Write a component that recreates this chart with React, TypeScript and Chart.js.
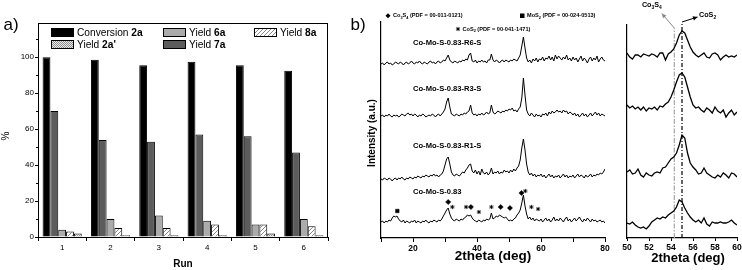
import React, { useEffect, useRef } from 'react';
import { Chart, registerables } from 'chart.js';

Chart.register(...registerables);

const FONT = "'Liberation Sans', Arial, Helvetica, sans-serif";

// ---------------- Panel a) : catalyst recycling ----------------
const runs = ['1', '2', '3', '4', '5', '6'];
const conversion2a = [100, 98.5, 95.5, 97.5, 95.5, 92.5];
const yield7a = [70, 54, 53, 57, 56, 47];
const yield6a = [4, 10, 12, 9, 7, 10];
const yield8a = [3, 5, 5, 7, 7, 6];
const yield2aPrime = [2, 1, 1, 1, 2, 1];
const percentTicks = [0, 20, 40, 60, 80, 100];
const percentMinorTicks = [10, 30, 50, 70, 90, 110];

// ---------------- Panel b) : XRD patterns ----------------
const twoTheta = [
  10, 10.5, 11, 11.5, 12, 12.5, 13, 13.5, 14, 14.5,
  15, 15.5, 16, 16.5, 17, 17.5, 18, 18.5, 19, 19.5,
  20, 20.5, 21, 21.5, 22, 22.5, 23, 23.5, 24, 24.5,
  25, 25.5, 26, 26.5, 27, 27.5, 28, 28.5, 29, 29.5,
  30, 30.5, 31, 31.5, 32, 32.5, 33, 33.5, 34, 34.5,
  35, 35.5, 36, 36.5, 37, 37.5, 38, 38.5, 39, 39.5,
  40, 40.5, 41, 41.5, 42, 42.5, 43, 43.5, 44, 44.5,
  45, 45.5, 46, 46.5, 47, 47.5, 48, 48.5, 49, 49.5,
  50, 50.5, 51, 51.5, 52, 52.5, 53, 53.5, 54, 54.5,
  55, 55.5, 56, 56.5, 57, 57.5, 58, 58.5, 59, 59.5,
  60, 60.5, 61, 61.5, 62, 62.5, 63, 63.5, 64, 64.5,
  65, 65.5, 66, 66.5, 67, 67.5, 68, 68.5, 69, 69.5,
  70, 70.5, 71, 71.5, 72, 72.5, 73, 73.5, 74, 74.5,
  75, 75.5, 76, 76.5, 77, 77.5, 78, 78.5, 79, 79.5,
  80,
];
const intensityR6S = [
  174, 175, 173, 175, 176, 174, 175, 173, 174, 176,
  175, 174, 176, 175, 173, 175, 176, 174, 175, 177,
  175, 174, 176, 175, 177, 175, 174, 176, 175, 174,
  176, 177, 175, 176, 174, 176, 177, 175, 176, 178,
  177, 180, 183, 178, 176, 175, 177, 176, 175, 177,
  176, 178, 177, 179, 178, 183, 185, 177, 176, 178,
  175, 177, 176, 178, 176, 177, 175, 178, 178, 184,
  178, 176, 178, 177, 175, 177, 178, 176, 178, 177,
  176, 178, 177, 179, 178, 177, 180, 183, 192, 201,
  190, 180, 176, 178, 175, 179, 177, 180, 176, 179,
  178, 181, 177, 180, 179, 182, 178, 181, 177, 183,
  179, 182, 180, 178, 181, 179, 183, 178, 180, 177,
  181, 178, 180, 176, 179, 182, 177, 180, 178, 175,
  179, 181, 177, 180, 178, 182, 176, 179, 181, 178,
  177,
];
const intensityR3S = [
  122, 123, 121, 123, 122, 124, 122, 121, 123, 122,
  123, 121, 122, 124, 123, 122, 124, 125, 123, 124,
  122, 124, 123, 121, 123, 122, 124, 123, 121, 122,
  123, 122, 124, 123, 121, 123, 124, 122, 124, 126,
  129, 136, 140, 131, 124, 123, 122, 124, 123, 122,
  124, 123, 125, 124, 126, 127, 133, 125, 123, 124,
  122, 124, 123, 125, 123, 124, 126, 124, 125, 133,
  126, 124, 125, 127, 126, 125, 127, 126, 128, 127,
  129, 128, 130, 127, 128, 126, 129, 131, 140, 160,
  143, 128, 124, 122, 125, 123, 121, 124, 122, 123,
  121, 124, 123, 125, 122, 126, 124, 127, 125, 126,
  128, 126, 127, 125, 128, 126, 127, 124, 126, 125,
  123, 125, 122, 124, 121, 123, 125, 122, 124, 121,
  123, 125, 122, 124, 126, 123, 125, 122, 124, 123,
  122,
];
const intensityR1S = [
  59, 58, 60, 59, 58, 60, 59, 57, 59, 60,
  58, 60, 59, 61, 59, 58, 60, 59, 61, 60,
  59, 61, 60, 62, 61, 60, 62, 61, 63, 62,
  61, 63, 62, 64, 62, 63, 61, 63, 64, 67,
  73, 79, 81, 74, 66, 63, 62, 64, 63, 62,
  64, 66, 65, 68, 70, 73, 74, 67, 65, 68,
  64, 67, 63, 69, 65, 64, 66, 63, 65, 70,
  64, 66, 65, 67, 64, 66, 65, 68, 66, 67,
  65, 68, 66, 69, 67, 70, 72, 78, 90, 99,
  88, 74, 66, 63, 65, 62, 64, 61, 63, 62,
  64, 61, 63, 60, 62, 64, 61, 63, 60, 62,
  61, 63, 60, 62, 64, 61, 63, 60, 62, 61,
  63, 60, 62, 64, 61, 63, 62, 60, 63, 61,
  62, 64, 61, 63, 62, 64, 63, 65, 64, 66,
  69,
];
const intensityPristine = [
  16, 17, 15, 17, 16, 18, 17, 20, 22, 21,
  22, 19, 17, 16, 18, 15, 17, 16, 15, 17,
  16, 18, 15, 17, 16, 15, 17, 16, 18, 16,
  15, 17, 16, 18, 17, 16, 18, 17, 19, 22,
  25, 28, 30, 24, 20, 18, 17, 19, 18, 17,
  19, 18, 20, 21, 23, 22, 23, 20, 18, 17,
  16, 18, 17, 16, 18, 17, 19, 18, 19, 25,
  19, 20, 22, 21, 23, 22, 21, 20, 21, 19,
  17, 18, 17, 19, 20, 23, 25, 28, 35, 43,
  32, 24, 19, 21, 18, 20, 17, 19, 18, 17,
  19, 16, 18, 20, 17, 19, 16, 18, 21, 17,
  19, 17, 20, 18, 16, 19, 21, 17, 19, 16,
  18, 20, 17, 19, 21, 18, 16, 19, 17, 20,
  18, 16, 19, 17, 18, 16, 17, 18, 16, 17,
  15,
];
const twoThetaTicks = [10, 20, 30, 40, 50, 60, 70, 80];
const traceNames = ['Co-Mo-S-0.83-R6-S', 'Co-Mo-S-0.83-R3-S', 'Co-Mo-S-0.83-R1-S', 'Co-Mo-S-0.83'];

// phase markers above the pristine pattern
const co3s4MarkX = [31, 38.1, 47.4, 50.3, 53.9];
const co3s4MarkY = [36, 31, 31, 30, 45];
const cos2MarkX = [32.3, 36.6, 40.6, 44.5, 55.1, 57, 59.1];
const cos2MarkY = [31, 31, 26, 31, 47, 31, 29];
const mos2MarkX = [15.1];
const mos2MarkY = [27];

// zoomed region 50-60 deg
const twoThetaZoom = [
  50, 50.25, 50.5, 50.75, 51, 51.25, 51.5, 51.75, 52, 52.25,
  52.5, 52.75, 53, 53.25, 53.5, 53.75, 54, 54.25, 54.5, 54.75,
  55, 55.25, 55.5, 55.75, 56, 56.25, 56.5, 56.75, 57, 57.25,
  57.5, 57.75, 58, 58.25, 58.5, 58.75, 59, 59.25, 59.5, 59.75,
  60,
];
const zoomR6S = [
  185, 181, 179, 183, 183, 181, 184, 183, 182, 184,
  183, 181, 185, 185, 178, 184, 186, 189, 195, 203,
  207, 205, 198, 191, 186, 183, 181, 183, 185, 181,
  180, 184, 185, 183, 178, 181, 183, 181, 182, 181,
  183,
];
const zoomR3S = [
  133, 130, 132, 129, 131, 128, 131, 127, 130, 129,
  131, 128, 132, 131, 134, 136, 141, 148, 156, 163,
  165, 161, 151, 141, 133, 130, 131, 128, 126, 130,
  128, 125, 131, 127, 125, 128, 121, 125, 128, 123,
  126,
];
const zoomR1S = [
  66, 68, 64, 65, 69, 63, 61, 65, 63, 62,
  65, 66, 65, 70, 71, 75, 79, 81, 85, 93,
  103, 100, 85, 75, 71, 68, 64, 65, 70, 65,
  63, 61, 60, 63, 61, 65, 63, 60, 65, 64,
  61,
];
const zoomPristine = [
  15, 14, 16, 13, 11, 10, 11, 9, 12, 16,
  18, 20, 19, 21, 20, 23, 25, 27, 31, 38,
  36, 30, 25, 21, 18, 16, 18, 15, 20, 14,
  12, 16, 15, 15, 16, 15, 15, 16, 18, 15,
  13,
];
const zoomTicks = [50, 52, 54, 56, 58, 60];
const co3s4RefLine = 54.3;
const cos2RefLine = 55.0;

// ---------------- helpers ----------------
type Seg = { t: string; bold?: boolean; sub?: boolean };

function drawSegs(ctx: CanvasRenderingContext2D, segs: Seg[], x: number, y: number, size: number, align: 'left' | 'center' = 'left') {
  ctx.save();
  ctx.fillStyle = '#000';
  ctx.textBaseline = 'middle';
  ctx.textAlign = 'left';
  const fontOf = (s: Seg) => `${s.bold ? 'bold ' : ''}${s.sub ? size * 0.68 : size}px ${FONT}`;
  let total = 0;
  for (const s of segs) {
    ctx.font = fontOf(s);
    total += ctx.measureText(s.t).width;
  }
  let cx = align === 'center' ? x - total / 2 : x;
  for (const s of segs) {
    ctx.font = fontOf(s);
    ctx.fillText(s.t, cx, s.sub ? y + size * 0.32 : y);
    cx += ctx.measureText(s.t).width;
  }
  ctx.restore();
}

function drawRotated(ctx: CanvasRenderingContext2D, text: string, x: number, y: number, font: string) {
  ctx.save();
  ctx.translate(x, y);
  ctx.rotate(-Math.PI / 2);
  ctx.font = font;
  ctx.fillStyle = '#000';
  ctx.textAlign = 'center';
  ctx.textBaseline = 'middle';
  ctx.fillText(text, 0, 0);
  ctx.restore();
}

function makeHatch(ctx: CanvasRenderingContext2D) {
  const c = document.createElement('canvas');
  c.width = 4;
  c.height = 4;
  const g = c.getContext('2d')!;
  g.fillStyle = '#ffffff';
  g.fillRect(0, 0, 4, 4);
  g.strokeStyle = '#8a8a8a';
  g.lineWidth = 1;
  g.beginPath();
  g.moveTo(0, 4);
  g.lineTo(4, 0);
  g.moveTo(-1, 1);
  g.lineTo(1, -1);
  g.moveTo(3, 5);
  g.lineTo(5, 3);
  g.stroke();
  return ctx.createPattern(c, 'repeat')!;
}

function makeDots(ctx: CanvasRenderingContext2D) {
  const c = document.createElement('canvas');
  c.width = 2;
  c.height = 2;
  const g = c.getContext('2d')!;
  g.fillStyle = '#ececec';
  g.fillRect(0, 0, 2, 2);
  g.fillStyle = '#8c8c8c';
  g.fillRect(0, 0, 1, 1);
  g.fillRect(1, 1, 1, 1);
  return ctx.createPattern(c, 'repeat')!;
}

const toXY = (xs: number[], ys: number[]) => xs.map((x, i) => ({ x, y: ys[i] }));

function arrow(ctx: CanvasRenderingContext2D, x0: number, y0: number, x1: number, y1: number, color: string) {
  ctx.save();
  ctx.strokeStyle = color;
  ctx.fillStyle = color;
  ctx.lineWidth = 1;
  ctx.setLineDash([]);
  ctx.beginPath();
  ctx.moveTo(x0, y0);
  ctx.lineTo(x1, y1);
  ctx.stroke();
  const a = Math.atan2(y1 - y0, x1 - x0);
  const L = 4.5;
  const W = 2.2;
  ctx.beginPath();
  ctx.moveTo(x1, y1);
  ctx.lineTo(x1 - L * Math.cos(a) + W * Math.sin(a), y1 - L * Math.sin(a) - W * Math.cos(a));
  ctx.lineTo(x1 - L * Math.cos(a) - W * Math.sin(a), y1 - L * Math.sin(a) + W * Math.cos(a));
  ctx.closePath();
  ctx.fill();
  ctx.restore();
}

// ---------------- plugins ----------------
const panelAPlugin = {
  id: 'panelA',
  afterDraw(chart: any) {
    const { ctx, chartArea } = chart;
    const { left, top, right, bottom } = chartArea;
    const yScale = chart.scales.y;
    ctx.save();
    ctx.strokeStyle = '#000';
    ctx.lineWidth = 1;
    ctx.beginPath();
    ctx.moveTo(Math.round(left), Math.round(top) + 0.5);
    ctx.lineTo(Math.round(right), Math.round(top) + 0.5);
    ctx.moveTo(Math.round(right) - 0.5, Math.round(top));
    ctx.lineTo(Math.round(right) - 0.5, Math.round(bottom));
    for (const v of percentMinorTicks) {
      const py = Math.round(yScale.getPixelForValue(v)) + 0.5;
      ctx.moveTo(left - 2, py);
      ctx.lineTo(left, py);
    }
    ctx.stroke();

    // legend inside plot
    const layout = [
      { ds: 0, x: left + 13, y: top + 5 },
      { ds: 2, x: left + 125, y: top + 5 },
      { ds: 3, x: left + 216, y: top + 5 },
      { ds: 4, x: left + 13, y: top + 17 },
      { ds: 1, x: left + 125, y: top + 17 },
    ];
    for (const item of layout) {
      const d = chart.data.datasets[item.ds];
      ctx.fillStyle = d.backgroundColor;
      ctx.fillRect(item.x, item.y, 23, 9);
      ctx.strokeStyle = '#000';
      ctx.lineWidth = 1;
      ctx.strokeRect(item.x + 0.5, item.y + 0.5, 22, 8);
      const label: string = d.label;
      const cut = label.lastIndexOf(' ');
      drawSegs(ctx, [{ t: label.slice(0, cut + 1) }, { t: label.slice(cut + 1), bold: true }], item.x + 26, item.y + 5, 10.2);
    }

    // titles
    ctx.fillStyle = '#000';
    ctx.font = `bold 10px ${FONT}`;
    ctx.textAlign = 'center';
    ctx.textBaseline = 'middle';
    ctx.fillText('Run', (left + right) / 2, 264);
    ctx.font = `17px ${FONT}`;
    ctx.fillText('a)', 11, 25);
    ctx.restore();
    drawRotated(ctx, '%', 6, 136, `10px ${FONT}`);
  },
};

const panelBPlugin = {
  id: 'panelB',
  afterDraw(chart: any) {
    const { ctx, chartArea } = chart;
    const xs = chart.scales.x;
    const labelX = xs.getPixelForValue(20);
    const labelY = [42.7, 89, 146, 191.7];
    traceNames.forEach((n, i) => drawSegs(ctx, [{ t: n, bold: true }], labelX, labelY[i], 7.6));

    // phase legend
    ctx.save();
    ctx.fillStyle = '#000';
    ctx.strokeStyle = '#000';
    ctx.beginPath();
    ctx.moveTo(43, 13.2);
    ctx.lineTo(45.5, 15.7);
    ctx.lineTo(43, 18.2);
    ctx.lineTo(40.5, 15.7);
    ctx.closePath();
    ctx.fill();
    ctx.fillRect(175, 13.5, 4.5, 4.5);
    ctx.lineWidth = 0.9;
    ctx.beginPath();
    for (let k = 0; k < 4; k++) {
      const a = (k * Math.PI) / 4;
      ctx.moveTo(113 - 2.1 * Math.cos(a), 29 - 2.1 * Math.sin(a));
      ctx.lineTo(113 + 2.1 * Math.cos(a), 29 + 2.1 * Math.sin(a));
    }
    ctx.stroke();
    ctx.restore();
    drawSegs(ctx, [{ t: 'Co', bold: true }, { t: '3', bold: true, sub: true }, { t: 'S', bold: true }, { t: '4', bold: true, sub: true }, { t: ' (PDF = 00-011-0121)', bold: true }], 48, 15.7, 5.6);
    drawSegs(ctx, [{ t: 'CoS', bold: true }, { t: '2', bold: true, sub: true }, { t: ' (PDF = 00-041-1471)', bold: true }], 117.5, 29, 5.6);
    drawSegs(ctx, [{ t: 'MoS', bold: true }, { t: '2', bold: true, sub: true }, { t: ' (PDF = 00-024-0513)', bold: true }], 182, 15.7, 5.6);

    ctx.save();
    ctx.fillStyle = '#000';
    ctx.textAlign = 'center';
    ctx.textBaseline = 'middle';
    ctx.font = `bold 13.5px ${FONT}`;
    ctx.fillText('2theta (deg)', (chartArea.left + chartArea.right) / 2, 256.5);
    ctx.font = `17px ${FONT}`;
    ctx.fillText('b)', 13, 25);
    ctx.restore();
    drawRotated(ctx, 'Intensity (a.u.)', 27.5, 133, `bold 10px ${FONT}`);
  },
};

const panelCPlugin = {
  id: 'panelC',
  beforeDatasetsDraw(chart: any) {
    const { ctx, chartArea } = chart;
    const xs = chart.scales.x;
    const xg = xs.getPixelForValue(co3s4RefLine);
    const xb = xs.getPixelForValue(cos2RefLine);
    ctx.save();
    ctx.lineWidth = 1.2;
    ctx.strokeStyle = '#a6a6a6';
    ctx.setLineDash([5, 1.5, 1.5, 1.5]);
    ctx.beginPath();
    ctx.moveTo(xg, chartArea.bottom);
    ctx.lineTo(xg, 28);
    ctx.stroke();
    ctx.strokeStyle = '#000';
    ctx.setLineDash([4, 2, 1, 2]);
    ctx.beginPath();
    ctx.moveTo(xb, chartArea.bottom);
    ctx.lineTo(xb, 22);
    ctx.stroke();
    ctx.restore();
  },
  afterDraw(chart: any) {
    const { ctx, chartArea } = chart;
    const xs = chart.scales.x;
    const xg = xs.getPixelForValue(co3s4RefLine);
    const xb = xs.getPixelForValue(cos2RefLine);
    arrow(ctx, xg, 28, xg - 12.5, 13.5, '#888');
    arrow(ctx, xb, 22, xb + 15.5, 17, '#000');
    drawSegs(ctx, [{ t: 'Co', bold: true }, { t: '3', bold: true, sub: true }, { t: 'S', bold: true }, { t: '4', bold: true, sub: true }], xg - 22.5, 5.5, 7.2, 'center');
    drawSegs(ctx, [{ t: 'CoS', bold: true }, { t: '2', bold: true, sub: true }], xb + 17, 15.5, 7.2);
    ctx.save();
    ctx.fillStyle = '#000';
    ctx.textAlign = 'center';
    ctx.textBaseline = 'middle';
    ctx.font = `bold 13px ${FONT}`;
    ctx.fillText('2theta (deg)', (chartArea.left + chartArea.right) / 2 + 6, 258);
    ctx.restore();
  },
};

// ---------------- charts ----------------
function buildBar(canvas: HTMLCanvasElement) {
  const ctx = canvas.getContext('2d')!;
  const hatch = makeHatch(ctx);
  const dots = makeDots(ctx);
  return new Chart(canvas, {
    type: 'bar',
    data: {
      labels: runs,
      datasets: [
        { label: 'Conversion 2a', data: conversion2a, backgroundColor: '#000000' },
        { label: 'Yield 7a', data: yield7a, backgroundColor: '#5c5c5c' },
        { label: 'Yield 6a', data: yield6a, backgroundColor: '#ababab' },
        { label: 'Yield 8a', data: yield8a, backgroundColor: hatch as any },
        { label: "Yield 2a'", data: yield2aPrime, backgroundColor: dots as any },
      ],
    },
    options: {
      animation: false,
      responsive: false,
      events: [],
      layout: { padding: { left: 0, right: 17, top: 23, bottom: 0 } },
      datasets: { bar: { categoryPercentage: 0.81, barPercentage: 1, borderColor: '#000', borderWidth: 1 } },
      plugins: { legend: { display: false }, tooltip: { enabled: false } },
      scales: {
        x: {
          grid: { drawOnChartArea: false, drawTicks: true, tickLength: 4, color: '#000', offset: true },
          border: { color: '#000', width: 1 },
          ticks: { color: '#000', font: { family: FONT, size: 8 }, padding: 2, maxRotation: 0 },
          afterFit: (s: any) => { s.height = 33; s.paddingLeft = 0; s.paddingRight = 0; },
        },
        y: {
          min: 0,
          max: 119,
          afterBuildTicks: (s: any) => { s.ticks = percentTicks.map((v) => ({ value: v })); },
          grid: { drawOnChartArea: false, tickLength: 3, color: '#000' },
          border: { color: '#000', width: 1 },
          ticks: { color: '#000', font: { family: FONT, size: 8 }, padding: 1 },
          afterFit: (s: any) => { s.width = 38; s.paddingTop = 0; s.paddingBottom = 0; },
        },
      },
    } as any,
    plugins: [panelAPlugin],
  });
}

const traceStyle = { borderColor: '#000', borderWidth: 1, pointRadius: 0, tension: 0, fill: false };

function buildXrd(canvas: HTMLCanvasElement) {
  return new Chart(canvas, {
    type: 'line',
    data: {
      datasets: [
        { ...traceStyle, label: traceNames[0], data: toXY(twoTheta, intensityR6S) },
        { ...traceStyle, label: traceNames[1], data: toXY(twoTheta, intensityR3S) },
        { ...traceStyle, label: traceNames[2], data: toXY(twoTheta, intensityR1S) },
        { ...traceStyle, label: traceNames[3], data: toXY(twoTheta, intensityPristine) },
        { type: 'scatter', label: 'Co3S4', data: toXY(co3s4MarkX, co3s4MarkY), pointStyle: 'rectRot', pointRadius: 2.6, backgroundColor: '#000', borderColor: '#000', borderWidth: 0.5 } as any,
        { type: 'scatter', label: 'CoS2', data: toXY(cos2MarkX, cos2MarkY), pointStyle: 'star', pointRadius: 2.1, backgroundColor: '#000', borderColor: '#000', borderWidth: 0.9 } as any,
        { type: 'scatter', label: 'MoS2', data: toXY(mos2MarkX, mos2MarkY), pointStyle: 'rect', pointRadius: 2.5, backgroundColor: '#000', borderColor: '#000', borderWidth: 0.5 } as any,
      ],
    },
    options: {
      animation: false,
      responsive: false,
      events: [],
      layout: { padding: { left: 0, right: 7, top: 22, bottom: 0 } },
      plugins: { legend: { display: false }, tooltip: { enabled: false } },
      scales: {
        x: {
          type: 'linear',
          min: 10,
          max: 80,
          afterBuildTicks: (s: any) => { s.ticks = twoThetaTicks.map((v) => ({ value: v })); },
          ticks: {
            autoSkip: false,
            maxRotation: 0,
            color: '#000',
            padding: 2,
            font: { family: FONT, size: 8.5, weight: 'bold' },
            callback: (v: any) => (Number(v) % 20 === 0 ? String(v) : ''),
          },
          grid: { drawOnChartArea: false, tickLength: 4, color: '#000' },
          border: { color: '#000', width: 1.2 },
          afterFit: (s: any) => { s.height = 32; s.paddingLeft = 0; s.paddingRight = 0; },
        },
        y: {
          min: 0,
          max: 216,
          ticks: { display: false },
          grid: { display: false },
          border: { color: '#000', width: 1.2 },
          afterFit: (s: any) => { s.width = 36; s.paddingTop = 0; s.paddingBottom = 0; },
        },
      },
    } as any,
    plugins: [panelBPlugin],
  });
}

function buildZoom(canvas: HTMLCanvasElement) {
  const st = { ...traceStyle, borderWidth: 1.3 };
  return new Chart(canvas, {
    type: 'line',
    data: {
      datasets: [
        { ...st, label: traceNames[0], data: toXY(twoThetaZoom, zoomR6S) },
        { ...st, label: traceNames[1], data: toXY(twoThetaZoom, zoomR3S) },
        { ...st, label: traceNames[2], data: toXY(twoThetaZoom, zoomR1S) },
        { ...st, label: traceNames[3], data: toXY(twoThetaZoom, zoomPristine) },
      ],
    },
    options: {
      animation: false,
      responsive: false,
      events: [],
      layout: { padding: { left: 0, right: 5, top: 25, bottom: 0 } },
      plugins: { legend: { display: false }, tooltip: { enabled: false } },
      scales: {
        x: {
          type: 'linear',
          min: 50,
          max: 60,
          afterBuildTicks: (s: any) => { s.ticks = zoomTicks.map((v) => ({ value: v })); },
          ticks: { autoSkip: false, maxRotation: 0, color: '#000', padding: 2, font: { family: FONT, size: 8.5, weight: 'bold' } },
          grid: { drawOnChartArea: false, tickLength: 3, color: '#000' },
          border: { color: '#000', width: 1.2 },
          afterFit: (s: any) => { s.height = 32; s.paddingLeft = 0; s.paddingRight = 0; },
        },
        y: {
          min: 0,
          max: 213,
          ticks: { display: false },
          grid: { display: false },
          border: { color: '#000', width: 1.2 },
          afterFit: (s: any) => { s.width = 15; s.paddingTop = 0; s.paddingBottom = 0; },
        },
      },
    } as any,
    plugins: [panelCPlugin],
  });
}

export default function App() {
  const aRef = useRef<HTMLCanvasElement>(null);
  const bRef = useRef<HTMLCanvasElement>(null);
  const cRef = useRef<HTMLCanvasElement>(null);

  useEffect(() => {
    const charts: Chart[] = [];
    if (aRef.current) charts.push(buildBar(aRef.current));
    if (bRef.current) charts.push(buildXrd(bRef.current));
    if (cRef.current) charts.push(buildZoom(cRef.current));
    return () => charts.forEach((c) => c.destroy());
  }, []);

  return (
    <div style={{ position: 'absolute', left: 0, top: 0, width: 742, height: 270, background: '#fff', overflow: 'hidden' }}>
      <canvas ref={aRef} width={345} height={270} style={{ position: 'absolute', left: 0, top: 0 }} />
      <canvas ref={bRef} width={267} height={270} style={{ position: 'absolute', left: 345, top: 0 }} />
      <canvas ref={cRef} width={130} height={270} style={{ position: 'absolute', left: 612, top: 0 }} />
    </div>
  );
}
